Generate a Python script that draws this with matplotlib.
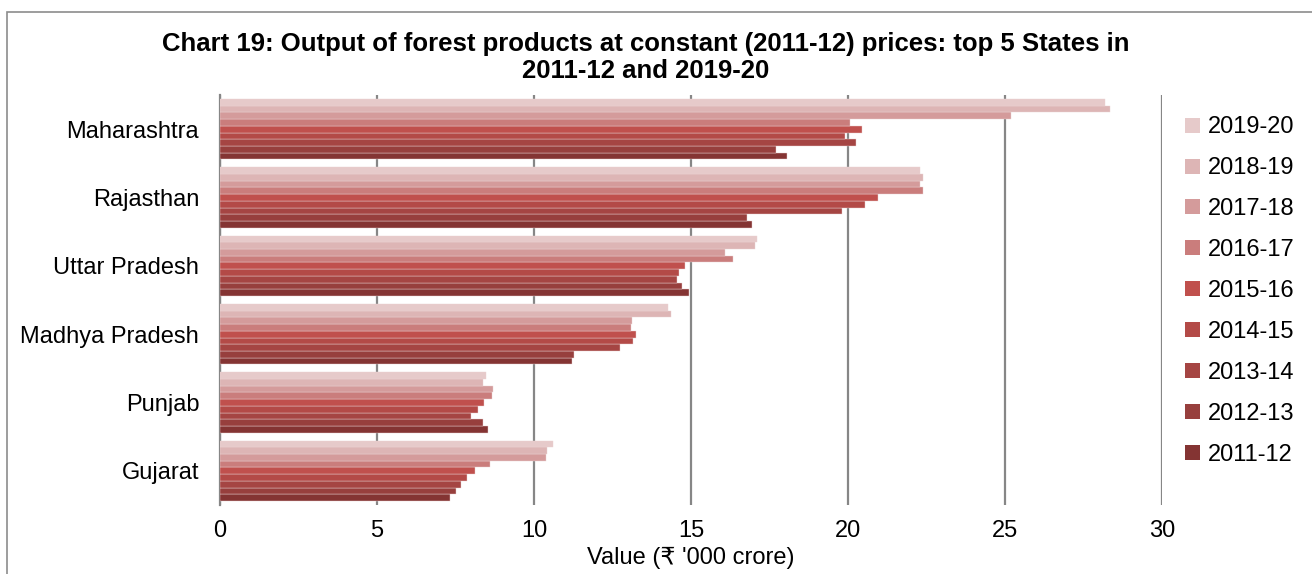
import numpy as np
import matplotlib
matplotlib.use("Agg")
import matplotlib.pyplot as plt
from matplotlib.patches import Patch, Rectangle

plt.rcParams['font.family'] = ['Liberation Sans', 'DejaVu Sans']

# datos (miles de crore de rupias)
estados = ["Maharashtra", "Rajasthan", "Uttar Pradesh", "Madhya Pradesh", "Punjab", "Gujarat"]
anios = ["2011-12", "2012-13", "2013-14", "2014-15", "2015-16",
         "2016-17", "2017-18", "2018-19", "2019-20"]

maharashtra = [18.07, 17.72, 20.24, 19.89, 20.45, 20.06, 25.18, 28.34, 28.19]
rajasthan = [16.93, 16.79, 19.81, 20.53, 20.96, 22.38, 22.30, 22.38, 22.28]
uttar_pradesh = [14.92, 14.70, 14.55, 14.63, 14.80, 16.35, 16.09, 17.05, 17.10]
madhya_pradesh = [11.20, 11.28, 12.75, 13.14, 13.26, 13.08, 13.13, 14.36, 14.28]
punjab = [8.54, 8.39, 8.00, 8.20, 8.41, 8.67, 8.70, 8.39, 8.48]
gujarat = [7.31, 7.52, 7.67, 7.86, 8.11, 8.60, 10.37, 10.40, 10.60]

colores = ["#843433", "#973F3D", "#A54543", "#B34A47", "#C0504D",
           "#CA7D7C", "#D49B9B", "#DDB5B5", "#E6CACA"]

valores = np.array([maharashtra, rajasthan, uttar_pradesh, madhya_pradesh, punjab, gujarat])

fig = plt.figure(figsize=(13.12, 5.74), dpi=100)
ax = fig.add_axes([0.1677, 0.1202, 0.718, 0.7143])

# marco del grafico
fig.patches.append(Rectangle((7 / 1312, -0.1), 1.2, 1 - 12 / 574 + 0.1,
                             transform=fig.transFigure, fill=False,
                             edgecolor="#8C8C8C", linewidth=1.2))

n = len(anios)
alto = 0.88 / n
pos = np.arange(len(estados))
for i, anio in enumerate(anios):
    # 2011-12 abajo, 2019-20 arriba dentro de cada grupo
    desp = (i - (n - 1) / 2) * alto
    ax.barh(pos - desp, valores[:, i], height=alto, color=colores[i],
            edgecolor="#EBD3D3", linewidth=0.3, zorder=3)

ax.set_ylim(5.5, -0.5)
ax.set_xlim(0, 30)
ax.set_xticks(range(0, 31, 5))
ax.set_yticks(pos)
ax.set_yticklabels(estados, fontsize=17)
ax.tick_params(axis='x', labelsize=17, length=0, pad=11)
ax.tick_params(axis='y', length=0, pad=15)
ax.grid(axis='x', color="#868686", linewidth=1.6, zorder=0)
for lado in ["top", "right", "bottom"]:
    ax.spines[lado].set_visible(False)
ax.spines["left"].set_color("#868686")
ax.spines["left"].set_linewidth(1.6)
ax.set_xlabel("Value (₹ '000 crore)", fontsize=17, labelpad=3)

fig.text(0.492, 0.9, "Chart 19: Output of forest products at constant (2011-12) prices: top 5 States in\n2011-12 and 2019-20",
         ha="center", va="center", fontsize=18.5, fontweight="bold", linespacing=1.12)

manejadores = [Patch(facecolor=colores[i], edgecolor="none", label=anios[i]) for i in range(n - 1, -1, -1)]
fig.legend(handles=manejadores, loc="upper left", bbox_to_anchor=(1176 / 1312, 1 - 107 / 574),
           frameon=False, fontsize=17, handlelength=0.6, handleheight=0.6,
           handletextpad=0.35, labelspacing=0.8, borderaxespad=0)

fig.savefig("out.png", dpi=100)
